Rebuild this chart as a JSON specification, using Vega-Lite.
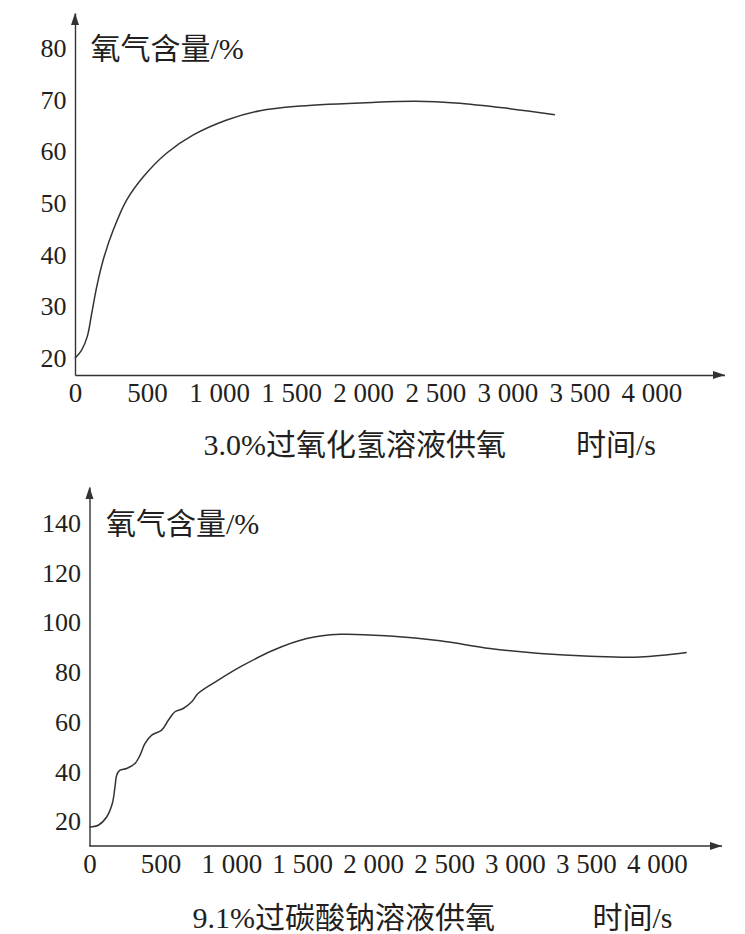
{
  "$schema": "https://vega.github.io/schema/vega-lite/v6.json",
  "background": "white",
  "padding": {"left": 40, "top": 13, "right": 0, "bottom": 0},
  "datasets": {
    "h2o2": [
      {"t": 0, "o2": 20},
      {"t": 46, "o2": 21.6},
      {"t": 85, "o2": 24.2},
      {"t": 116, "o2": 28.7},
      {"t": 151, "o2": 33.9},
      {"t": 196, "o2": 39.1},
      {"t": 266, "o2": 44.9},
      {"t": 359, "o2": 50.7},
      {"t": 474, "o2": 55.2},
      {"t": 637, "o2": 59.8},
      {"t": 821, "o2": 63.3},
      {"t": 1053, "o2": 66.2},
      {"t": 1284, "o2": 68.0},
      {"t": 1562, "o2": 68.9},
      {"t": 2062, "o2": 69.6},
      {"t": 2362, "o2": 69.8},
      {"t": 2640, "o2": 69.5},
      {"t": 2987, "o2": 68.5},
      {"t": 3330, "o2": 67.2}
    ],
    "percarbonate": [
      {"t": 0, "o2": 18.0},
      {"t": 62, "o2": 18.7},
      {"t": 121, "o2": 22.0},
      {"t": 161, "o2": 27.4},
      {"t": 180, "o2": 34.1},
      {"t": 192, "o2": 38.8},
      {"t": 215, "o2": 40.8},
      {"t": 262, "o2": 41.5},
      {"t": 321, "o2": 43.5},
      {"t": 356, "o2": 46.8},
      {"t": 391, "o2": 51.5},
      {"t": 439, "o2": 54.9},
      {"t": 509, "o2": 56.9},
      {"t": 556, "o2": 60.9},
      {"t": 603, "o2": 64.3},
      {"t": 661, "o2": 65.6},
      {"t": 721, "o2": 68.3},
      {"t": 767, "o2": 71.7},
      {"t": 908, "o2": 77.0},
      {"t": 1063, "o2": 82.3},
      {"t": 1296, "o2": 89.0},
      {"t": 1532, "o2": 93.7},
      {"t": 1767, "o2": 95.4},
      {"t": 2119, "o2": 94.7},
      {"t": 2472, "o2": 92.8},
      {"t": 2824, "o2": 89.7},
      {"t": 3177, "o2": 87.7},
      {"t": 3530, "o2": 86.6},
      {"t": 3882, "o2": 86.3},
      {"t": 4211, "o2": 88.1}
    ]
  },
  "config": {
    "view": {"stroke": null},
    "font": "Liberation Serif, Noto Sans CJK SC",
    "axis": {
      "grid": false,
      "ticks": false,
      "domainColor": "#333333",
      "domainWidth": 1.4,
      "labelColor": "#231f20",
      "titleColor": "#231f20",
      "labelFont": "Liberation Serif",
      "labelFontSize": 26,
      "titleFont": "Liberation Serif, Noto Sans CJK SC",
      "titleFontSize": 30,
      "titleFontWeight": "normal",
      "titleAngle": 0,
      "titleAlign": "left",
      "titleBaseline": "middle",
      "labelOverlap": false,
      "labelFlush": false,
      "labelBound": false
    }
  },
  "vconcat": [
    {
      "width": 650,
      "height": 362,
      "layer": [
        {
          "data": {"name": "h2o2"},
          "mark": {"type": "line", "interpolate": "catmull-rom", "color": "#333333", "strokeWidth": 1.5},
          "encoding": {
            "x": {
              "field": "t",
              "type": "quantitative",
              "scale": {"domain": [0, 4510], "nice": false, "zero": false},
              "axis": {
                "values": [0, 500, 1000, 1500, 2000, 2500, 3000, 3500, 4000],
                "labelExpr": "replace(format(datum.value, ','), ',', ' ')",
                "labelFontSize": 27,
                "labelPadding": 5,
                "title": "3.0%过氧化氢溶液供氧\u3000\u3000\u2004时间/s",
                "titleX": 128,
                "titleY": 70
              }
            },
            "y": {
              "field": "o2",
              "type": "quantitative",
              "scale": {"domain": [16.76, 86.93], "nice": false, "zero": false},
              "axis": {
                "values": [20, 30, 40, 50, 60, 70, 80],
                "labelPadding": 9,
                "title": "氧气含量/%",
                "titleX": 15,
                "titleY": 36
              }
            }
          }
        },
        {
          "data": {"values": [{}]},
          "mark": {"type": "point", "shape": "M0,0L-0.8,2.4L0.8,2.4Z", "filled": true, "size": 100, "color": "#333333", "opacity": 1},
          "encoding": {
            "x": {"datum": 0, "type": "quantitative"},
            "y": {"datum": 86.93, "type": "quantitative"}
          }
        },
        {
          "data": {"values": [{}]},
          "mark": {"type": "point", "shape": "M0,0L-2.4,-0.8L-2.4,0.8Z", "filled": true, "size": 100, "color": "#333333", "opacity": 1},
          "encoding": {
            "x": {"datum": 4510, "type": "quantitative"},
            "y": {"datum": 16.76, "type": "quantitative"}
          }
        }
      ]
    },
    {
      "width": 647,
      "height": 359,
      "layer": [
        {
          "data": {"name": "percarbonate"},
          "mark": {"type": "line", "interpolate": "catmull-rom", "color": "#333333", "strokeWidth": 1.5},
          "encoding": {
            "x": {
              "field": "t",
              "type": "quantitative",
              "scale": {"domain": [-102, 4460], "nice": false, "zero": false},
              "axis": {
                "values": [0, 500, 1000, 1500, 2000, 2500, 3000, 3500, 4000],
                "labelExpr": "replace(format(datum.value, ','), ',', ' ')",
                "labelFontSize": 27,
                "labelPadding": 5,
                "domain": false,
                "title": "9.1%过碳酸钠溶液供氧\u3000\u3000\u3000\u2005时间/s",
                "titleX": 117,
                "titleY": 72
              }
            },
            "y": {
              "field": "o2",
              "type": "quantitative",
              "scale": {"domain": [10.35, 154.6], "nice": false, "zero": false},
              "axis": {
                "values": [20, 40, 60, 80, 100, 120, 140],
                "offset": -14.5,
                "labelPadding": 9,
                "title": "氧气含量/%",
                "titleX": 16,
                "titleY": 37
              }
            }
          }
        },
        {
          "data": {"values": [{}]},
          "mark": {"type": "rule", "color": "#333333", "strokeWidth": 1.4},
          "encoding": {
            "x": {"datum": 0, "type": "quantitative"},
            "x2": {"datum": 4460},
            "y": {"datum": 10.35, "type": "quantitative"}
          }
        },
        {
          "data": {"values": [{}]},
          "mark": {"type": "point", "shape": "M0,0L-0.8,2.4L0.8,2.4Z", "filled": true, "size": 100, "color": "#333333", "opacity": 1},
          "encoding": {
            "x": {"datum": 0, "type": "quantitative"},
            "y": {"datum": 154.6, "type": "quantitative"}
          }
        },
        {
          "data": {"values": [{}]},
          "mark": {"type": "point", "shape": "M0,0L-2.4,-0.8L-2.4,0.8Z", "filled": true, "size": 100, "color": "#333333", "opacity": 1},
          "encoding": {
            "x": {"datum": 4460, "type": "quantitative"},
            "y": {"datum": 10.35, "type": "quantitative"}
          }
        }
      ]
    }
  ],
  "spacing": 27
}
